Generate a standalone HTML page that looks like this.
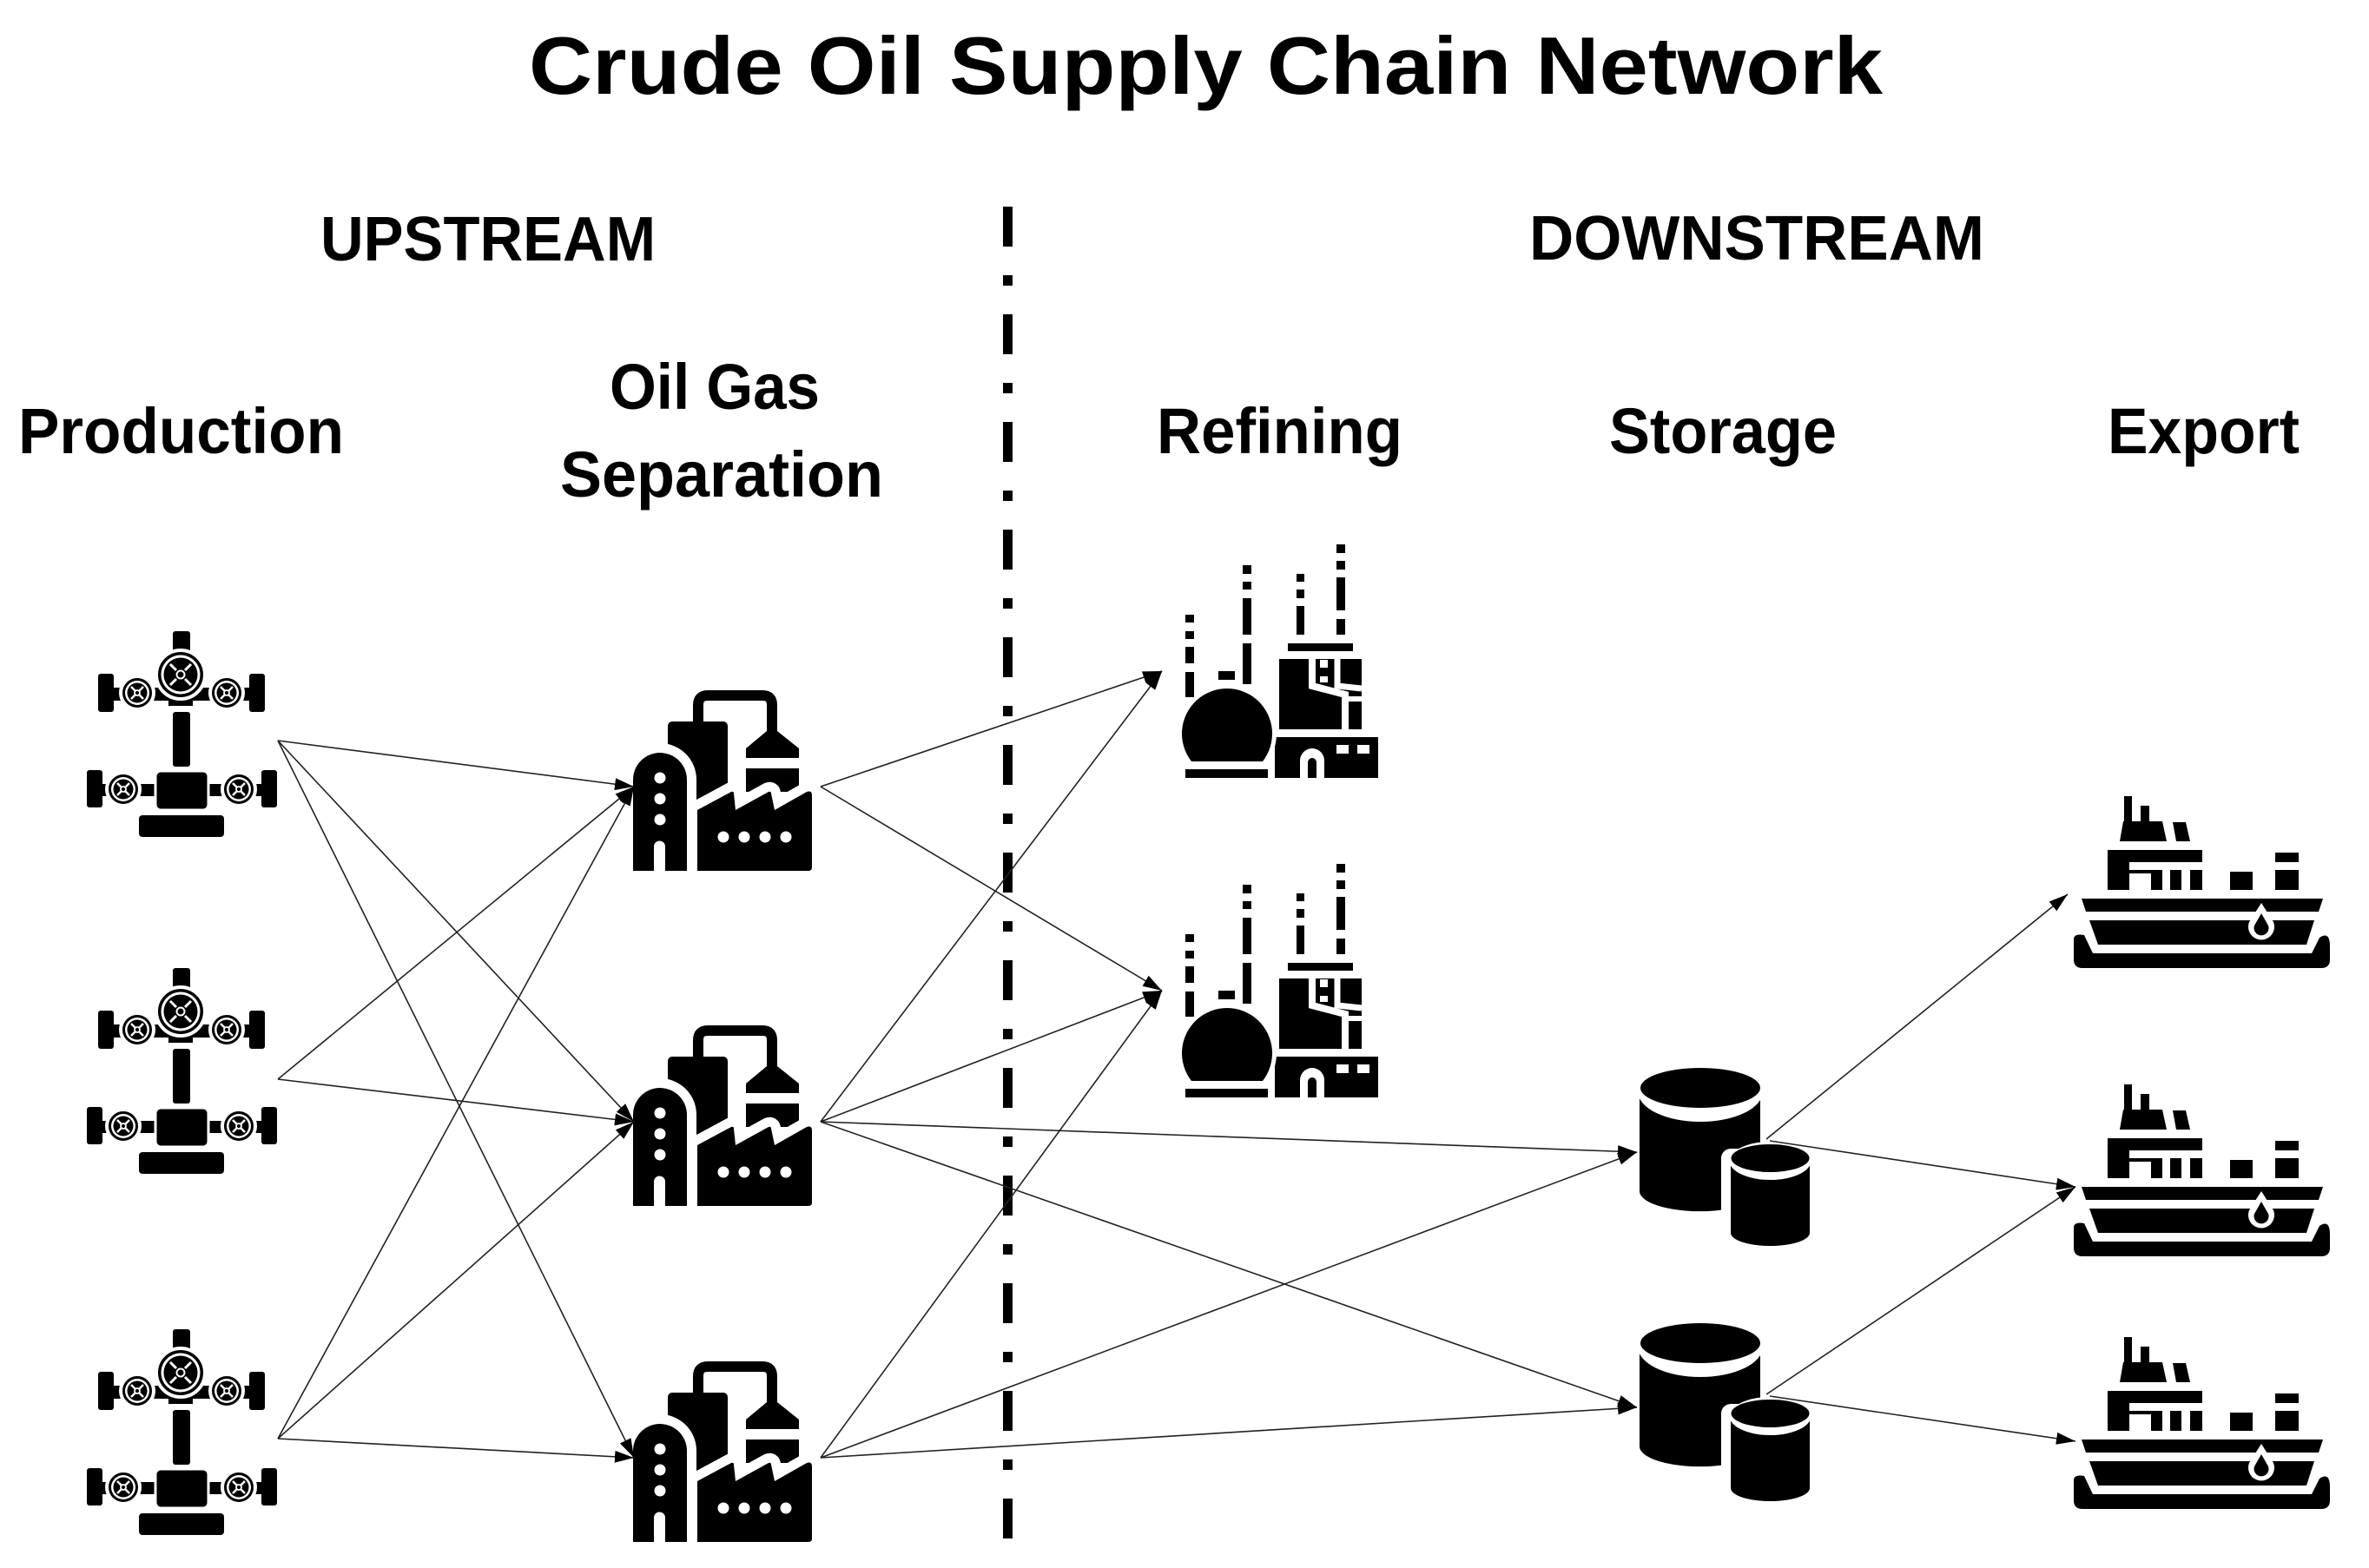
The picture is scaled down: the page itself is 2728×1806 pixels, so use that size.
<!DOCTYPE html>
<html><head><meta charset="utf-8"><style>html,body{margin:0;padding:0;background:#fff}svg{display:block}</style></head>
<body>
<svg xmlns="http://www.w3.org/2000/svg" width="2728" height="1806" viewBox="0 0 2728 1806">
<defs>
<marker id="ah" markerUnits="userSpaceOnUse" markerWidth="24" markerHeight="16" refX="22" refY="8" orient="auto">
<path d="M0,1 L22,8 L0,15 Z" fill="#000"/>
</marker>
<g id="wheel">
<circle r="19" fill="#000" stroke="#fff" stroke-width="4"/>
<circle r="14" fill="#fff"/>
<circle r="11.5" fill="#000"/>
<path d="M-7,-7 L-2.5,-2.5 M7,-7 L2.5,-2.5 M-7,7 L-2.5,2.5 M7,7 L2.5,2.5" stroke="#fff" stroke-width="2.5"/>
<circle r="3" fill="none" stroke="#fff" stroke-width="1.8"/>
</g>
<g id="well">
<rect x="199" y="727" width="20" height="30" rx="3" fill="#000"/>
<rect x="113" y="776" width="18" height="44" rx="3" fill="#000"/>
<rect x="287" y="776" width="18" height="44" rx="3" fill="#000"/>
<rect x="125" y="792" width="170" height="15" fill="#000"/>
<rect x="194" y="795" width="28" height="18" fill="#000"/>
<rect x="199" y="820" width="20" height="63" rx="3" fill="#000"/>
<use href="#wheel" x="158" y="798"/>
<use href="#wheel" x="261" y="798"/>
<circle cx="208" cy="777" r="28" fill="#000" stroke="#fff" stroke-width="4"/>
<circle cx="208" cy="777" r="22.5" fill="#fff"/>
<circle cx="208" cy="777" r="19.5" fill="#000"/>
<path d="M196,765 L203,772 M220,765 L213,772 M196,789 L203,782 M220,789 L213,782" stroke="#fff" stroke-width="3"/>
<circle cx="208" cy="777" r="4.5" fill="none" stroke="#fff" stroke-width="2"/>
<rect x="100" y="887" width="18" height="43" rx="3" fill="#000"/>
<rect x="301" y="887" width="18" height="43" rx="3" fill="#000"/>
<rect x="112" y="903" width="195" height="14" fill="#000"/>
<rect x="179" y="888" width="61" height="45" rx="6" fill="#000" stroke="#fff" stroke-width="3"/>
<use href="#wheel" x="142" y="909"/>
<use href="#wheel" x="275" y="909"/>
<rect x="160" y="939" width="98" height="25" rx="4" fill="#000"/>
</g>
<g id="fac">
<rect x="769" y="831" width="69" height="90" rx="5" fill="#000"/>
<path d="M804,835 V812 Q804,801 815,801 H878 Q889,801 889,812 V845" fill="none" stroke="#000" stroke-width="12"/>
<polygon points="883,842 895,842 920,862 920,873 859,873 859,862" fill="#000"/>
<rect x="859" y="885" width="61" height="27" fill="#000"/>
<path d="M729,1003 V898 A31,31 0 0 1 791,898 V1003 Z" fill="#000" stroke="#fff" stroke-width="22" paint-order="stroke"/>
<circle cx="760" cy="896" r="6.5" fill="#fff"/>
<circle cx="760" cy="920" r="6.5" fill="#fff"/>
<circle cx="760" cy="944" r="6.5" fill="#fff"/>
<path d="M753,1003 V975 A6.5,6.5 0 0 1 766,975 V1003 Z" fill="#fff"/>
<path d="M803,933 L842,912 Q845,911 845,914 L847,933 L885,912 Q888,911 888,914 L892,933 L929,912 Q935,910 935,916 V999 Q935,1003 931,1003 H803 Z" fill="#000" stroke="#fff" stroke-width="22" paint-order="stroke"/>
<rect x="789" y="1003" width="20" height="10" fill="#fff"/>
<circle cx="833" cy="964" r="6.5" fill="#fff"/>
<circle cx="857" cy="964" r="6.5" fill="#fff"/>
<circle cx="881" cy="964" r="6.5" fill="#fff"/>
<circle cx="905" cy="964" r="6.5" fill="#fff"/>
</g>
<g id="ref">
<g fill="#000">
<rect x="1365" y="708" width="10" height="9"/><rect x="1365" y="727" width="10" height="9"/><rect x="1365" y="745" width="10" height="19"/><rect x="1365" y="774" width="10" height="29"/>
<rect x="1431" y="651" width="10" height="10"/><rect x="1431" y="670" width="10" height="9"/><rect x="1431" y="689" width="10" height="42"/><rect x="1431" y="741" width="10" height="47"/>
<rect x="1493" y="661" width="9" height="9"/><rect x="1493" y="679" width="9" height="10"/><rect x="1493" y="698" width="9" height="33"/>
<rect x="1539" y="627" width="10" height="10"/><rect x="1539" y="646" width="10" height="10"/><rect x="1539" y="665" width="10" height="38"/><rect x="1539" y="713" width="10" height="18"/>
<rect x="1483" y="741" width="75" height="9"/>
<rect x="1473" y="759" width="95" height="81"/>
<rect x="1403" y="773" width="19" height="10"/>
</g>
<path d="M1511,759 V790 L1549,800 V840" fill="none" stroke="#fff" stroke-width="8"/>
<path d="M1540,759 V790 L1568,793" fill="none" stroke="#fff" stroke-width="7"/>
<rect x="1520" y="760" width="9" height="9" fill="#fff"/><rect x="1520" y="779" width="9" height="7" fill="#fff"/>
<rect x="1553" y="802" width="15" height="6" fill="#fff"/>
<path d="M1468,849 H1587 V896 H1468 Z" fill="#000"/>
<path d="M1497,896 V876 A14,14 0 0 1 1525,876 V896 Z" fill="#fff"/>
<path d="M1506,896 V878 A5,5 0 0 1 1516,878 V896 Z" fill="#000"/>
<rect x="1539" y="858" width="14" height="10" fill="#fff"/><rect x="1563" y="858" width="14" height="10" fill="#fff"/>
<path d="M1372,877 A52,52 0 1 1 1454,877 Z" fill="#000" stroke="#fff" stroke-width="10" paint-order="stroke"/>
<rect x="1365" y="886" width="95" height="10" fill="#000"/>
</g>
<g id="stor">
<path d="M1888,1256 V1372 A69,23 0 0 0 2027,1372 V1256 Z" fill="#000"/>
<ellipse cx="1958" cy="1257" rx="72" ry="35" fill="#fff"/>
<ellipse cx="1958" cy="1253" rx="69" ry="23" fill="#000"/>
<path d="M1993,1334 V1420 A45.5,15 0 0 0 2084,1420 V1334 Z" fill="#fff" stroke="#fff" stroke-width="22" stroke-linejoin="round"/>
<path d="M1993,1336 V1420 A45.5,15 0 0 0 2084,1420 V1336 Z" fill="#000"/>
<ellipse cx="2038.5" cy="1337" rx="47" ry="22" fill="#fff"/>
<ellipse cx="2038.5" cy="1334" rx="45" ry="16" fill="#000"/>
</g>
<g id="ship">
<path d="M2446,917 H2455 V946 H2465 V928 H2475 V946 H2490 L2495,969 H2441 L2445,946 H2446 Z" fill="#000"/>
<polygon points="2502,947 2517,947 2522,969 2506,969" fill="#000"/>
<rect x="2427" y="979" width="109" height="14" fill="#000"/>
<rect x="2427" y="979" width="25" height="46" fill="#000"/>
<rect x="2477" y="1002" width="13" height="23" fill="#000"/>
<rect x="2499" y="1002" width="13" height="23" fill="#000"/>
<rect x="2522" y="1002" width="14" height="23" fill="#000"/>
<rect x="2452" y="1002" width="25" height="4" fill="#000"/>
<rect x="2568" y="1004" width="26" height="21" fill="#000"/>
<rect x="2620" y="982" width="27" height="11" fill="#000"/>
<rect x="2620" y="1002" width="27" height="23" fill="#000"/>
<polygon points="2397,1035 2675,1035 2670,1050 2402,1050" fill="#000"/>
<polygon points="2406,1060 2665,1060 2656,1088 2416,1088" fill="#000"/>
<path d="M2388,1082 Q2388,1075 2400,1077 L2410,1098 H2662 L2671,1080 Q2683,1072 2683,1090 V1105 Q2683,1115 2673,1115 H2398 Q2388,1115 2388,1105 Z" fill="#000"/>
<path d="M2604,1040 L2618,1062 A15,15 0 1 1 2590,1062 Z" fill="#fff"/>
<path d="M2604,1052 L2612,1066 A8.5,8.5 0 1 1 2596,1066 Z" fill="#000"/>
</g>
</defs>

<g font-family="'Liberation Sans', Arial, sans-serif" font-weight="bold" fill="#000">
<text x="609" y="108" font-size="94" textLength="1559" lengthAdjust="spacingAndGlyphs">Crude Oil Supply Chain  Network</text>
<text x="369" y="300" font-size="72" textLength="386" lengthAdjust="spacingAndGlyphs">UPSTREAM</text>
<text x="1761" y="299" font-size="72" textLength="524" lengthAdjust="spacingAndGlyphs">DOWNSTREAM</text>
<text x="21" y="522" font-size="74" textLength="375" lengthAdjust="spacingAndGlyphs">Production</text>
<text x="702" y="471" font-size="74" textLength="242" lengthAdjust="spacingAndGlyphs">Oil Gas</text>
<text x="645" y="572" font-size="74" textLength="372" lengthAdjust="spacingAndGlyphs">Separation</text>
<text x="1332" y="522" font-size="74" textLength="283" lengthAdjust="spacingAndGlyphs">Refining</text>
<text x="1853" y="522" font-size="74" textLength="262" lengthAdjust="spacingAndGlyphs">Storage</text>
<text x="2427" y="522" font-size="74" textLength="221" lengthAdjust="spacingAndGlyphs">Export</text>
</g>

<line x1="1160.5" y1="238" x2="1160.5" y2="1795" stroke="#000" stroke-width="11" stroke-dasharray="46 33 12 33"/>

<use href="#well"/>
<use href="#well" y="388"/>
<use href="#well" y="804"/>
<use href="#fac"/>
<use href="#fac" y="386"/>
<use href="#fac" y="773"/>
<use href="#ref"/>
<use href="#ref" y="368"/>
<use href="#stor"/>
<use href="#stor" y="294"/>
<use href="#ship"/>
<use href="#ship" y="332"/>
<use href="#ship" y="623"/>

<g stroke="#222" stroke-width="1.6" fill="none" marker-end="url(#ah)">
<line x1="320" y1="853" x2="730" y2="906"/>
<line x1="320" y1="853" x2="730" y2="1292"/>
<line x1="320" y1="853" x2="730" y2="1679"/>
<line x1="320" y1="1243" x2="730" y2="906"/>
<line x1="320" y1="1243" x2="730" y2="1292"/>
<line x1="320" y1="1657" x2="730" y2="906"/>
<line x1="320" y1="1657" x2="730" y2="1292"/>
<line x1="320" y1="1657" x2="730" y2="1679"/>
<line x1="945" y1="906" x2="1338" y2="773"/>
<line x1="945" y1="906" x2="1338" y2="1141"/>
<line x1="945" y1="1292" x2="1338" y2="773"/>
<line x1="945" y1="1292" x2="1338" y2="1141"/>
<line x1="945" y1="1292" x2="1885" y2="1327"/>
<line x1="945" y1="1292" x2="1885" y2="1621"/>
<line x1="945" y1="1679" x2="1338" y2="1141"/>
<line x1="945" y1="1679" x2="1885" y2="1327"/>
<line x1="945" y1="1679" x2="1885" y2="1621"/>
<line x1="2034" y1="1312" x2="2381" y2="1030"/>
<line x1="2038" y1="1314" x2="2390" y2="1367"/>
<line x1="2034" y1="1606" x2="2390" y2="1367"/>
<line x1="2038" y1="1608" x2="2390" y2="1660"/>
</g>
</svg>
</body></html>
